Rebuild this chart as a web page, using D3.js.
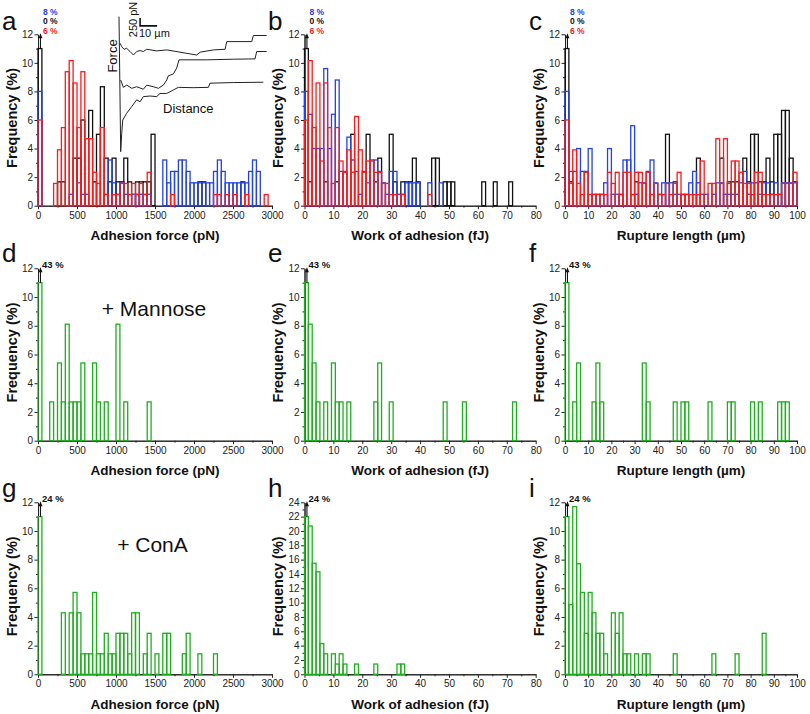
<!DOCTYPE html>
<html><head><meta charset="utf-8">
<script src="https://cdn.jsdelivr.net/npm/d3@7"></script>
<style>body{margin:0;background:#fff}svg{display:block}text{font-family:"Liberation Sans",Arial,sans-serif}</style>
</head><body>
<svg id="chart" width="810" height="714"></svg>
<script>
// ---------- DATA (60 bins per histogram, frequency in %) ----------
const forceTicks = [0,500,1000,1500,2000,2500,3000];
const workTicks = [0,10,20,30,40,50,60,70,80];
const lengthTicks = [0,10,20,30,40,50,60,70,80,90,100];
const freqTicks12 = [0,2,4,6,8,10,12];
const freqTicks24 = [0,2,4,6,8,10,12,14,16,18,20,22,24];
const xTitles = ["Adhesion force (pN)","Work of adhesion (fJ)","Rupture length (\u00b5m)"];
const yTitle = "Frequency (%)";
const row1Pct = ["8 %","0 %","6 %"];
const mannosePct = "43 %";
const conaPct = "24 %";
const mannoseLabel = "+ Mannose";
const conaLabel = "+ ConA";

const redA = [6,0,0,0,1.56,3.91,5.47,9.38,10.16,8.59, 5.47,9.38,4.69,4.69,2.34,1.56,5.47,0.78,0,0.78, 0.78,1.56,1.56,0.78,1.56,0.78,1.56,0.78,2.34,0, 0,0,0,0,0.78,0,0,0,0,0, 0,0,0,0,0,0.78,0.78,0,0.78,0, 0.78,0,0,0.78,0,0,0,0,0.78,0];
const blueA = [8,0,0,0,0,0,0,0,0.8,0, 1.6,0.8,0.8,0,0,0,0,0.8,3.2,1.6, 0.8,1.6,0.8,0,0.8,0.8,0.8,0.8,0.8,0, 0,0,3.2,1.6,2.4,2.4,3.2,3.2,2.4,1.6, 1.6,1.6,1.6,1.6,1.6,2.4,3.2,2.4,1.6,1.6, 1.6,1.6,1.6,1.6,2.4,3.2,2.4,0,0,0];
const blackA = [11,0,0,0,0,1.67,1.67,0,0,3.33, 3.33,6,0,6.67,1.67,5,8.33,3.33,1.67,3.33, 1.67,1.67,3.33,1.67,0,1.67,1.67,1.67,1.67,5, 0,0,0,0,0,0,0,0,0,0, 0,1.67,1.67,0,0,0,0,0,0,0, 0,0,1.67,0,0,0,0,0,0,0];

const redB = [6,10.16,5.47,8.59,3.13,8.59,5.47,1.56,5.47,3.13, 2.34,3.91,2.34,6.25,3.91,2.34,3.13,3.13,2.34,2.34, 1.56,1.56,0.78,0.78,0,0.78,0,0,0,0, 0,0,0.78,0,0,0,0,0,0,0, 0,0,0,0,0,0,0,0,0,0, 0,0,0,0,0,0,0,0,0,0];
const blueB = [8,6.4,4,4,4,9.6,4,6.4,8.8,2.4, 2.4,4.8,3.2,2.4,0.8,2.4,1.6,3.2,3.2,2.4, 1.6,0.8,2.4,2.4,0.8,0.8,1.6,1.6,1.6,1.6, 0,0,1.6,0,0,1.6,0,0,0,0, 0,0,0,0,0,0,0,0,0,0, 0,0,0,0,0,0,0,0,0,0];
const blackB = [11,1.67,0,0,0,1.67,0,0,1.67,0, 0,0,5,0,0,0,5,0,1.67,3.33, 0,0,5,1.67,0,1.67,1.67,1.67,3.33,1.67, 0,0,0,3.33,3.33,0,1.67,1.67,1.67,0, 0,0,0,0,0,0,1.67,0,0,1.67, 0,0,0,1.67,0,0,0,0,0,0];

const redC = [6,1.56,3.91,1.56,0.78,2.34,0.78,0.78,0.78,0.78, 0.78,2.34,1.56,2.34,0.78,2.34,2.34,0.78,2.34,2.34, 1.56,2.34,0.78,1.56,0.78,0.78,1.56,0.78,1.56,2.34, 0.78,0.78,0.78,0.78,0.78,3.13,0,1.56,1.56,4.69, 1.56,4.69,1.56,3.13,3.13,2.34,1.56,1.56,0.78,2.34, 2.34,0.78,0.78,0.78,0.78,0.78,1.56,1.56,1.56,2.34];
const blueC = [8,2.4,2.4,4,2.4,2.4,4,0.8,0.8,0.8, 1.6,4,0.8,0.8,0.8,3.2,3.2,5.6,0.8,1.6, 1.6,2.4,3.2,1.6,0.8,1.6,1.6,1.6,0.8,0.8, 0.8,0.8,1.6,2.4,1.6,0.8,0.8,0,0.8,1.6, 1.6,0.8,0.8,0.8,0.8,1.6,2.4,0.8,1.6,1.6, 0.8,1.6,1.6,0.8,1.6,0.8,1.6,1.6,1.6,1.6];
const blackC = [11,1.67,0,0,0,0,0,0,0,0, 0,0,0,0,0,0,0,0,1.67,0, 0,0,0,0,0,0,5,0,1.67,0, 0,0,0,0,3.33,0,0,0,0,0, 3.33,0,1.67,1.67,1.67,0,3.33,1.67,5,5, 1.67,1.67,3.33,1.67,5,5,6.67,6.67,3.33,1.67];

const greenD = [11,0,0,2.7,0,5.41,2.7,8.11,2.7,2.7, 2.7,5.41,0,0,5.41,2.7,0,2.7,0,0, 8.11,0,2.7,0,0,0,0,0,2.7,0, 0,0,0,0,0,0,0,0,0,0, 0,0,0,0,0,0,0,0,0,0, 0,0,0,0,0,0,0,0,0,0];
const greenE = [11,8.11,5.41,2.7,0,2.7,0,5.41,2.7,2.7, 0,2.7,0,0,0,0,0,0,2.7,5.41, 0,0,2.7,0,0,0,0,0,0,0, 0,0,0,0,0,0,2.7,0,0,0, 0,2.7,0,0,0,0,0,0,0,0, 0,0,0,0,2.7,0,0,0,0,0];
const greenF = [11,0,2.7,5.41,0,0,0,2.7,5.41,2.7, 0,0,0,0,0,0,0,0,0,0, 5.41,2.7,0,0,0,0,0,0,2.7,0, 2.7,2.7,0,0,0,0,0,2.7,0,0, 0,0,2.7,2.7,0,0,0,0,2.7,0, 2.7,0,0,0,0,2.7,2.7,2.7,0,0];

const greenG = [11,0,0,0,0,0,4.29,0,4.29,5.71, 4.29,1.43,1.43,1.43,5.71,1.43,1.43,2.86,1.43,1.43, 2.86,2.86,2.86,1.43,4.29,4.29,0,1.43,2.86,0, 1.43,0,2.86,2.86,0,0,0,1.43,2.86,0, 0,1.43,0,0,0,1.43,0,0,0,0, 0,0,0,0,0,0,0,0,0,0];
const greenH = [22,20.7,15.5,14.3,4.29,2.86,0,2.86,1.43,2.86, 1.43,0,0,1.43,0,0,0,0,1.43,0, 0,0,0,0,1.43,1.43,0,0,0,0, 0,0,0,0,0,0,0,0,0,0, 0,0,0,0,0,0,0,0,0,0, 0,0,0,0,0,0,0,0,0,0];
const greenI = [11,4.86,11.7,7.71,5.71,2.86,5.71,4.29,2.86,2.86, 1.43,0,4.29,2.86,4.29,1.43,1.43,0,1.43,0, 1.43,1.43,0,0,0,0,0,0,1.43,0, 0,0,0,0,0,0,0,0,1.43,0, 0,0,0,0,1.43,0,0,0,0,0, 0,2.86,0,0,0,0,0,0,0,0];

// inset force-distance traces: [distance (um), force (pN)]
const insetSpike = [[-1,4230],[0,10]];
const insetTraceTop = [[-0.4,3400],[0.6,3290],[2,3210],[3.5,3240],[5.5,3140],[7.5,3030],[9.4,3140],[11.4,3170],[13.3,3140],[15.3,3210],[21.2,3160],[27.1,3190],[34.9,3120],[44.7,3030],[46.7,3120],[54.5,3190],[61.4,3210],[62.4,3450],[77.1,3450],[78,3640],[85.9,3640]];
const insetTraceMid = [[0,2250],[1.6,2020],[3.5,2090],[6.5,1990],[9.4,2040],[13.3,1960],[15.3,2090],[19.2,2040],[22.2,1990],[25.1,2090],[27.1,2250],[28,2380],[31,2440],[32.9,2620],[34.3,2880],[50.6,2880],[66.3,2900],[79,2910],[80,3140],[85.9,3140]];
const insetTraceBot = [[0,10],[0.6,580],[1.2,1000],[3.5,1210],[6.5,1420],[9.4,1630],[11.4,1570],[13.3,1730],[17.3,1750],[21.2,1730],[23.1,1830],[27.1,1830],[31,1940],[33.9,2020],[42.7,2010],[51.6,2020],[52.5,2150],[66.3,2170],[83.9,2180]];
const scaleBar = {um:10, pN:250, originUm:11.4, originPN:3940};

// ---------- DRAWING ----------
const RED = "#ff1a1a", BLUE = "#2443e6", BLACK = "#111111", GREEN = "#1fae1f";
const svg = d3.select("#chart");
const FONT = '"Liberation Sans", Arial, sans-serif';
const NB = 60;

const cols = [{left:38, right:272}, {left:304.5, right:535.7}, {left:565, right:797}];
const rows = [{top:34.3, bottom:205.7}, {top:268.3, bottom:440.7}, {top:502.3, bottom:674.3}];
const xMaxes = [3000, 80, 100];
const xTickSets = [forceTicks, workTicks, lengthTicks];

const panels = [
  {r:0,c:0,letter:"a",series:[[blackA,BLACK],[blueA,BLUE],[redA,RED]],yMax:12,yTicks:freqTicks12,arrowFrom:11,pct:"row1"},
  {r:0,c:1,letter:"b",series:[[blackB,BLACK],[blueB,BLUE],[redB,RED]],yMax:12,yTicks:freqTicks12,arrowFrom:11,pct:"row1"},
  {r:0,c:2,letter:"c",series:[[blackC,BLACK],[blueC,BLUE],[redC,RED]],yMax:12,yTicks:freqTicks12,arrowFrom:11,pct:"row1"},
  {r:1,c:0,letter:"d",series:[[greenD,GREEN]],yMax:12,yTicks:freqTicks12,arrowFrom:11,pct:mannosePct},
  {r:1,c:1,letter:"e",series:[[greenE,GREEN]],yMax:12,yTicks:freqTicks12,arrowFrom:11,pct:mannosePct},
  {r:1,c:2,letter:"f",series:[[greenF,GREEN]],yMax:12,yTicks:freqTicks12,arrowFrom:11,pct:mannosePct},
  {r:2,c:0,letter:"g",series:[[greenG,GREEN]],yMax:12,yTicks:freqTicks12,arrowFrom:11,pct:conaPct},
  {r:2,c:1,letter:"h",series:[[greenH,GREEN]],yMax:24,yTicks:freqTicks24,arrowFrom:22,pct:conaPct},
  {r:2,c:2,letter:"i",series:[[greenI,GREEN]],yMax:12,yTicks:freqTicks12,arrowFrom:11,pct:conaPct}
];

function styleAxis(g){
  g.attr("font-size",null).attr("font-family",null);
  g.selectAll("path,line").attr("stroke","#222").attr("stroke-width",1);
  g.selectAll("text").attr("font-size",10).attr("font-family",FONT).attr("fill","#222");
}

panels.forEach(p => {
  const col = cols[p.c], row = rows[p.r];
  const xMax = xMaxes[p.c];
  const xs = d3.scaleLinear().domain([0,xMax]).range([col.left,col.right]);
  const ys = d3.scaleLinear().domain([0,p.yMax]).range([row.bottom,row.top]);
  const bw = xMax/NB;
  const g = svg.append("g");

  // axes
  const xStep = xTickSets[p.c][1]-xTickSets[p.c][0];
  const xMinor = d3.range(xStep/2, xMax, xStep);
  const yMinor = d3.range(1, p.yMax, 2);
  g.append("g").attr("transform",`translate(0,${row.bottom})`)
    .call(d3.axisBottom(xs).tickValues(xMinor).tickSize(2).tickSizeOuter(0).tickFormat(""))
    .call(styleAxis);
  g.append("g").attr("transform",`translate(0,${row.bottom})`)
    .call(d3.axisBottom(xs).tickValues(xTickSets[p.c]).tickSize(3.5).tickPadding(2.5).tickSizeOuter(0).tickFormat(d3.format("d")))
    .call(styleAxis);
  g.append("g").attr("transform",`translate(${col.left},0)`)
    .call(d3.axisLeft(ys).tickValues(yMinor).tickSize(2).tickSizeOuter(0).tickFormat(""))
    .call(styleAxis);
  g.append("g").attr("transform",`translate(${col.left},0)`)
    .call(d3.axisLeft(ys).tickValues(p.yTicks).tickSize(3.5).tickPadding(1.5).tickSizeOuter(0).tickFormat(d3.format("d")))
    .call(styleAxis);

  // bars
  p.series.forEach(([vals,color]) => {
    g.append("g").selectAll("rect")
      .data(vals.map((v,i)=>({v,i})).filter(d=>d.v>0))
      .join("rect")
      .attr("x", d=>xs(d.i*bw)).attr("width", xs(bw)-xs(0))
      .attr("y", d=>ys(d.v)).attr("height", d=>ys(0)-ys(d.v))
      .attr("fill","none").attr("stroke",color).attr("stroke-width",1.3);
  });

  // arrow on first bin
  const ax = xs(bw/2)+0.5;
  const tipY = ys(p.yMax)-1;
  g.append("line").attr("x1",ax).attr("x2",ax).attr("y1",ys(p.arrowFrom)).attr("y2",tipY+3)
    .attr("stroke","#111").attr("stroke-width",1.1);
  g.append("path").attr("d",`M${ax},${tipY} L${ax-2},${tipY+5} L${ax+2},${tipY+5} Z`).attr("fill","#111");

  // percent labels
  if (p.pct === "row1") {
    const cols3 = [BLUE,BLACK,RED];
    row1Pct.forEach((t,k) => {
      g.append("text").attr("x",col.left+5).attr("y",row.top-19.8+k*9.8)
        .attr("font-size",8.5).attr("font-weight","bold").attr("fill",cols3[k]).text(t);
    });
  } else {
    g.append("text").attr("x",col.left+4).attr("y",row.top-0.5)
      .attr("font-size",9.5).attr("font-weight","bold").attr("fill","#111").text(p.pct);
  }

  // axis titles
  g.append("text").attr("x",(col.left+col.right)/2).attr("y",row.bottom+34.5)
    .attr("text-anchor","middle").attr("font-size",13.5).attr("font-weight","bold").attr("fill","#111")
    .text(xTitles[p.c]);
  g.append("text").attr("transform",`translate(${col.left-21.5},${(row.top+row.bottom)/2-2}) rotate(-90)`)
    .attr("text-anchor","middle").attr("font-size",14.5).attr("font-weight","bold").attr("fill","#111")
    .text(yTitle);

  // panel letter
  const lx = [2,268,529][p.c];
  const ly = [30,262,496.5][p.r];
  g.append("text").attr("x",lx).attr("y",ly).attr("font-size",26).attr("fill","#111").text(p.letter);
});

// condition labels
svg.append("text").attr("x",154).attr("y",315.5).attr("text-anchor","middle").attr("font-size",21).attr("fill","#111").text(mannoseLabel);
svg.append("text").attr("x",152.5).attr("y",551.5).attr("text-anchor","middle").attr("font-size",21).attr("fill","#111").text(conaLabel);

// inset in panel a
const ix = d3.scaleLinear().domain([0,10]).range([120.7,137.7]);
const iy = d3.scaleLinear().domain([0,250]).range([152,144]);
const line = d3.line().x(d=>ix(d[0])).y(d=>iy(d[1]));
const inset = svg.append("g");
[insetSpike, insetTraceTop, insetTraceMid, insetTraceBot].forEach(tr => {
  inset.append("path").attr("d",line(tr)).attr("fill","none").attr("stroke","#222").attr("stroke-width",1);
});
const sbx = ix(scaleBar.originUm), sby = iy(scaleBar.originPN);
inset.append("path")
  .attr("d",`M${sbx},${iy(scaleBar.originPN+scaleBar.pN)} L${sbx},${sby} L${ix(scaleBar.originUm+scaleBar.um)},${sby}`)
  .attr("fill","none").attr("stroke","#111").attr("stroke-width",1.6);
inset.append("text").attr("transform","translate(136.5,19.5) rotate(-90)").attr("text-anchor","middle")
  .attr("font-size",11).attr("fill","#111").text("250 pN");
inset.append("text").attr("x",139).attr("y",36.5).attr("font-size",11).attr("fill","#111").text("10 \u00b5m");
inset.append("text").attr("transform","translate(116.5,56) rotate(-90)").attr("text-anchor","middle")
  .attr("font-size",13).attr("fill","#111").text("Force");
inset.append("text").attr("x",163).attr("y",113).attr("font-size",13).attr("fill","#111").text("Distance");
</script>
</body></html>
